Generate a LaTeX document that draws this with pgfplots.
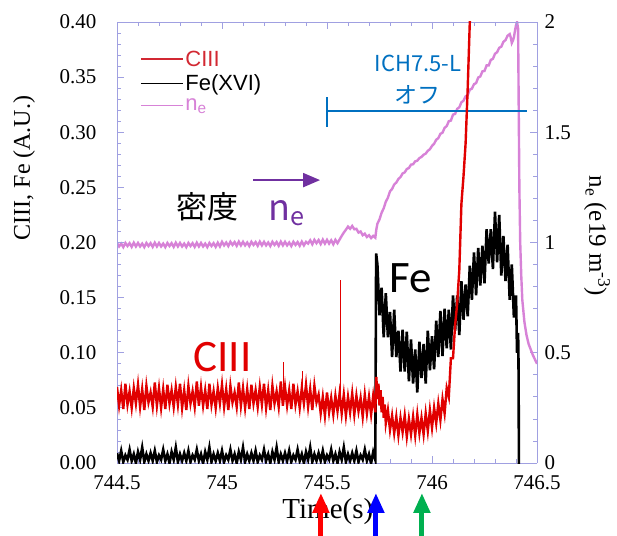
\documentclass[border=0pt]{standalone}
\usepackage{pgfplots}
\pgfplotsset{compat=1.18}
\usepackage{fontspec}
\setmainfont{Liberation Serif}
\newfontfamily\legfont{Liberation Sans}
\newfontfamily\calfont{Carlito}
\newfontfamily\jpfont{Noto Sans CJK JP}
\usetikzlibrary{arrows.meta}
\definecolor{cred}{RGB}{225,0,0}
\definecolor{cpink}{RGB}{215,130,215}
\definecolor{cpurple}{RGB}{112,48,160}
\definecolor{cblue}{RGB}{0,112,192}
\definecolor{caxis}{RGB}{160,160,225}
\definecolor{cgreen}{RGB}{0,176,80}
\definecolor{clegred}{RGB}{210,40,50}
\pgfplotsset{
 common/.style={
  width=420pt, height=441pt, scale only axis, at={(0pt,0pt)}, anchor=south west,
  xmin=744.5, xmax=746.5,
  axis line style={draw=caxis, line width=0.9pt},
  every outer x axis line/.append style={draw=caxis},
  every outer y axis line/.append style={draw=caxis},
  x axis line style={draw=caxis}, y axis line style={draw=caxis},
  tick style={draw=caxis, line width=0.8pt},
  major tick style={draw=caxis}, minor tick style={draw=caxis},
  major tick length=7pt, minor tick length=4pt,
  minor x tick num=4, minor y tick num=4,
  tick align=inside,
  ticklabel style={font=\fontsize{21}{21}\selectfont, text=black},
  /pgf/number format/assume math mode=true,
  label style={font=\fontsize{24}{24}\selectfont},
 }
}
\begin{document}
\begin{tikzpicture}
\path[use as bounding box] (-117pt,-72pt) rectangle (500pt,463pt);
% ---------- right axis: n_e ----------
\begin{axis}[common,
  axis x line=none, axis y line*=right,
  ymin=0, ymax=2, ytick={0,0.5,1,1.5,2},
  yticklabel style={xshift=4pt},
  ylabel={n\textsubscript{e} (e19 m\textsuperscript{-3})},
  ylabel style={at={(axis description cs:1.143,0.515)}, anchor=center, rotate=180, font=\fontsize{25}{25}\selectfont}]
\addplot[cpink, line width=2.4pt] coordinates {
(744.50,0.998)(744.51,0.982)(744.52,0.995)(744.53,0.979)(744.54,0.998)(744.55,0.984)(744.56,0.997)(744.57,0.980)(744.58,0.999)(744.59,0.982)
(744.60,0.998)(744.61,0.982)(744.62,0.995)(744.63,0.979)(744.64,0.998)(744.65,0.984)(744.66,0.997)(744.67,0.980)(744.68,0.999)(744.69,0.982)
(744.70,0.998)(744.71,0.982)(744.72,0.995)(744.73,0.979)(744.74,0.998)(744.75,0.984)(744.76,0.997)(744.77,0.980)(744.78,0.999)(744.79,0.982)
(744.80,0.998)(744.81,0.982)(744.82,0.995)(744.83,0.979)(744.84,0.998)(744.85,0.984)(744.86,0.997)(744.87,0.980)(744.88,0.999)(744.89,0.982)
(744.90,0.998)(744.91,0.982)(744.92,0.995)(744.93,0.979)(744.94,0.998)(744.95,0.984)(744.96,0.997)(744.97,0.980)(744.98,0.999)(744.99,0.982)
(745.00,1.003)(745.01,0.987)(745.02,1.000)(745.03,0.984)(745.04,1.003)(745.05,0.989)(745.06,1.002)(745.07,0.985)(745.08,1.004)(745.09,0.987)
(745.10,1.003)(745.11,0.987)(745.12,1.000)(745.13,0.984)(745.14,1.003)(745.15,0.989)(745.16,1.002)(745.17,0.985)(745.18,1.004)(745.19,0.987)
(745.20,1.003)(745.21,0.987)(745.22,1.000)(745.23,0.984)(745.24,1.003)(745.25,0.989)(745.26,1.002)(745.27,0.985)(745.28,1.004)(745.29,0.987)
(745.30,1.003)(745.31,0.987)(745.32,1.000)(745.33,0.984)(745.34,1.003)(745.35,0.989)(745.36,1.002)(745.37,0.985)(745.38,1.004)(745.39,0.987)
(745.40,1.003)(745.41,0.995)(745.42,1.010)(745.43,0.992)(745.44,1.012)(745.45,0.997)(745.46,1.011)(745.47,0.993)(745.48,1.013)(745.49,0.995)
(745.50,1.012)(745.51,0.995)(745.52,1.010)(745.53,0.992)(745.54,1.012)(745.55,0.997)
(745.57,1.030)(745.58,1.045)(745.59,1.058)(745.60,1.072)(745.61,1.062)(745.62,1.075)(745.63,1.060)(745.64,1.062)(745.65,1.045)(745.66,1.050)
(745.67,1.033)(745.68,1.040)(745.69,1.025)(745.70,1.033)(745.71,1.020)(745.72,1.030)(745.73,1.022)(745.735,1.060)
(745.74,1.085)(745.75,1.105)(745.76,1.135)(745.77,1.155)(745.78,1.185)(745.79,1.203)(745.80,1.232)(745.81,1.243)(745.82,1.263)(745.83,1.272)
(745.84,1.288)(745.85,1.297)(745.86,1.313)(745.87,1.318)(745.88,1.333)(745.89,1.338)(745.90,1.353)(745.91,1.355)(745.92,1.368)(745.93,1.371)
(745.94,1.383)(745.95,1.388)(745.96,1.398)(745.97,1.403)(745.98,1.416)(745.99,1.423)(746.00,1.438)(746.01,1.448)(746.02,1.466)(746.03,1.473)
(746.04,1.493)(746.05,1.498)(746.06,1.520)(746.07,1.528)(746.08,1.550)(746.09,1.553)(746.10,1.580)(746.11,1.583)(746.12,1.606)(746.13,1.613)
(746.14,1.636)(746.15,1.643)(746.16,1.663)(746.17,1.668)(746.18,1.693)(746.19,1.698)(746.20,1.718)(746.21,1.723)(746.22,1.748)(746.23,1.753)
(746.24,1.776)(746.25,1.778)(746.26,1.803)(746.27,1.803)(746.28,1.828)(746.29,1.833)(746.30,1.856)(746.31,1.863)(746.32,1.883)(746.33,1.888)
(746.34,1.910)(746.35,1.918)(746.36,1.938)(746.37,1.945)(746.375,1.930)(746.38,1.905)(746.385,1.915)(746.39,1.930)(746.395,1.960)(746.40,1.985)
(746.405,2.000)(746.41,1.970)(746.413,1.600)(746.416,1.250)(746.42,1.000)(746.425,0.850)(746.43,0.740)(746.44,0.640)(746.45,0.580)(746.46,0.540)
(746.47,0.515)(746.48,0.490)(746.49,0.470)(746.50,0.450)};
% ICH7.5-L off marker
\draw[cblue, line width=2.5pt] (axis cs:745.5,1.596) -- (axis cs:746.452,1.596);
\draw[cblue, line width=2.5pt] (axis cs:745.5,1.524) -- (axis cs:745.5,1.66);
\node[cblue, font=\jpfont\fontsize{22}{22}\selectfont] at (axis cs:745.933,1.814) {ICH7.5-L};
\node[cblue, font=\jpfont\fontsize{23}{23}\selectfont] at (axis cs:745.929,1.669) {オフ};
\node[black, font=\jpfont\fontsize{31}{31}\selectfont] at (axis cs:744.929,1.161) {密度};
\node[cpurple, font=\jpfont\fontsize{36}{36}\selectfont, anchor=base west, inner sep=0pt] at (axis cs:745.219,1.102) {n\textsubscript{e}};
\draw[cpurple, line width=2pt, -{Triangle[width=14pt,length=17pt]}] (axis cs:745.148,1.283) -- (axis cs:745.467,1.283);
\end{axis}
% ---------- left axis: CIII, Fe ----------
\begin{axis}[common,
  axis y line*=left,
  ymin=0, ymax=0.4,
  ytick={0,0.05,0.1,0.15,0.2,0.25,0.3,0.35,0.4},
  yticklabel style={/pgf/number format/fixed, /pgf/number format/fixed zerofill, /pgf/number format/precision=2, xshift=-17pt},
  xtick={744.5,745,745.5,746,746.5},
  xticklabel style={/pgf/number format/fixed, yshift=-9pt},
  xlabel={Time(s)},
  xlabel style={at={(axis description cs:0.502,-0.111)}, anchor=center, font=\fontsize{29}{29}\selectfont},
  ylabel={CIII, Fe (A.U.)},
  ylabel style={at={(axis description cs:-0.2214,0.669)}, anchor=center},
  legend style={draw=none, fill=none, at={(axis description cs:0.055,0.94)}, anchor=north west,
    font=\legfont\fontsize{22}{22}\selectfont, row sep=3pt, inner sep=0pt},
  legend image code/.code={\draw[#1, line width=1.2pt] (0pt,0pt) -- (42pt,0pt);},
  legend cell align=left]
\addlegendimage{clegred}\addlegendentry{\textcolor{clegred}{CIII}}
\addlegendimage{black}\addlegendentry{Fe(XVI)}
\addlegendimage{cpink}\addlegendentry{\textcolor{cpink}{n\textsubscript{e}}}
% Fe(XVI)
\addplot[black, line width=2.6pt, forget plot] coordinates {
(744.50,.009)(744.51,.002)(744.52,.011)(744.53,.001)(744.54,.007)(744.55,.003)(744.56,.012)(744.57,.002)(744.58,.008)(744.59,.000)(744.60,.010)(744.61,.003)(744.62,.014)(744.63,.001)(744.64,.008)(744.65,.002)
(744.66,.009)(744.67,.002)(744.68,.011)(744.69,.001)(744.70,.007)(744.71,.003)(744.72,.012)(744.73,.002)(744.74,.008)(744.75,.000)(744.76,.010)(744.77,.003)(744.78,.014)(744.79,.001)(744.80,.008)(744.81,.002)
(744.82,.009)(744.83,.002)(744.84,.011)(744.85,.001)(744.86,.007)(744.87,.003)(744.88,.012)(744.89,.002)(744.90,.008)(744.91,.000)(744.92,.010)(744.93,.003)(744.94,.014)(744.95,.001)(744.96,.008)(744.97,.002)
(744.98,.009)(744.99,.002)(745.00,.011)(745.01,.001)(745.02,.007)(745.03,.003)(745.04,.012)(745.05,.002)(745.06,.008)(745.07,.000)(745.08,.010)(745.09,.003)(745.10,.014)(745.11,.001)(745.12,.008)(745.13,.002)
(745.14,.009)(745.15,.002)(745.16,.011)(745.17,.001)(745.18,.007)(745.19,.003)(745.20,.012)(745.21,.002)(745.22,.008)(745.23,.000)(745.24,.010)(745.25,.003)(745.26,.014)(745.27,.001)(745.28,.008)(745.29,.002)
(745.30,.009)(745.31,.002)(745.32,.011)(745.33,.001)(745.34,.007)(745.35,.003)(745.36,.012)(745.37,.002)(745.38,.008)(745.39,.000)(745.40,.010)(745.41,.003)(745.42,.014)(745.43,.001)(745.44,.008)(745.45,.002)
(745.46,.009)(745.47,.002)(745.48,.011)(745.49,.001)(745.50,.007)(745.51,.003)(745.52,.012)(745.53,.002)(745.54,.008)(745.55,.000)(745.56,.010)(745.57,.003)(745.58,.014)(745.59,.001)(745.60,.008)(745.61,.002)
(745.62,.009)(745.63,.002)(745.64,.011)(745.65,.001)(745.66,.007)(745.67,.003)(745.68,.012)(745.69,.002)(745.70,.008)(745.71,.000)(745.72,.010)(745.73,.003)
(745.734,.190)
(745.74,.180)(745.75,.134)(745.76,.159)(745.77,.114)(745.78,.154)(745.79,.114)(745.80,.137)(745.81,.096)(745.82,.139)(745.83,.096)(745.84,.120)(745.85,.083)(745.86,.121)(745.87,.083)(745.88,.119)(745.89,.074)
(745.90,.112)(745.91,.072)(745.92,.103)(745.93,.064)(745.94,.110)(745.95,.077)(745.96,.108)(745.97,.072)(745.98,.120)(745.99,.084)(746.00,.115)(746.01,.085)(746.02,.129)(746.03,.096)(746.04,.138)(746.05,.097)
(746.06,.140)(746.07,.104)(746.08,.139)(746.09,.103)(746.10,.152)(746.11,.120)(746.12,.152)(746.13,.116)(746.14,.165)(746.15,.130)(746.16,.162)(746.17,.133)(746.18,.179)(746.19,.148)(746.20,.191)(746.21,.152)
(746.22,.195)(746.23,.161)(746.24,.197)(746.25,.163)(746.26,.212)(746.27,.181)(746.28,.212)(746.29,.176)(746.30,.228)(746.31,.182)(746.32,.225)(746.33,.170)(746.34,.206)(746.35,.165)(746.36,.198)(746.37,.148)
(746.38,.180)(746.39,.132)(746.40,.152)(746.405,.100)(746.41,.118)(746.412,.090)(746.414,.000)(746.42,.000)};
% CIII
\addplot[cred, line width=2.4pt, forget plot] coordinates {
(744.50,.069)(744.51,.052)(744.52,.066)(744.53,.049)(744.54,.072)(744.55,.053)(744.56,.065)(744.57,.050)(744.58,.068)(744.59,.054)
(744.60,.071)(744.61,.051)(744.62,.067)(744.63,.048)(744.64,.070)(744.65,.055)(744.66,.064)(744.67,.051)(744.68,.073)(744.69,.052)
(744.70,.068)(744.71,.050)(744.72,.067)(744.73,.049)(744.74,.071)(744.75,.054)(744.76,.066)(744.77,.051)(744.78,.069)(744.79,.053)
(744.80,.072)(744.81,.050)(744.82,.066)(744.83,.048)(744.84,.070)(744.85,.054)(744.86,.065)(744.87,.051)(744.88,.074)(744.89,.052)
(744.90,.069)(744.91,.052)(744.92,.066)(744.93,.049)(744.94,.072)(744.95,.053)(744.96,.065)(744.97,.050)(744.98,.068)(744.99,.054)
(745.00,.071)(745.01,.051)(745.02,.067)(745.03,.048)(745.04,.070)(745.05,.055)(745.06,.064)(745.07,.051)(745.08,.073)(745.09,.052)
(745.10,.068)(745.11,.050)(745.12,.067)(745.13,.049)(745.14,.071)(745.15,.054)(745.16,.066)(745.17,.051)(745.18,.069)(745.19,.053)
(745.20,.072)(745.21,.050)(745.22,.066)(745.23,.048)(745.24,.070)(745.25,.054)(745.26,.065)(745.27,.051)(745.28,.074)(745.29,.052)
(745.30,.069)(745.31,.052)(745.32,.066)(745.33,.049)(745.34,.072)(745.35,.053)(745.36,.065)(745.37,.050)(745.38,.068)(745.39,.054)
(745.40,.071)(745.41,.051)(745.42,.067)(745.43,.048)(745.44,.070)(745.45,.055)
(745.46,.062)(745.47,.045)(745.48,.060)(745.49,.043)(745.50,.064)(745.51,.046)(745.52,.059)(745.53,.044)(745.54,.061)(745.55,.047)(745.56,.063)
(745.57,.045)(745.58,.062)(745.59,.043)(745.60,.060)(745.61,.046)(745.62,.063)(745.63,.044)(745.64,.061)(745.65,.047)(745.66,.059)
(745.67,.042)(745.68,.062)(745.69,.045)(745.70,.060)(745.71,.044)(745.72,.061)(745.73,.046)
(745.735,.078)(745.74,.058)(745.745,.072)(745.75,.052)(745.755,.066)(745.76,.046)(745.765,.060)(745.77,.041)(745.775,.053)(745.78,.036)
(745.79,.048)(745.80,.030)(745.81,.043)(745.82,.027)(745.83,.042)(745.84,.025)(745.85,.041)(745.86,.028)(745.87,.043)(745.88,.024)
(745.89,.040)(745.90,.026)(745.91,.042)(745.92,.025)(745.93,.044)(745.94,.027)(745.95,.041)(745.96,.026)(745.97,.045)(745.98,.029)
(745.99,.048)(746.00,.032)(746.01,.050)(746.02,.036)(746.03,.054)(746.04,.039)(746.05,.058)(746.06,.045)(746.07,.068)(746.08,.060)
(746.09,.095)(746.10,.095)(746.11,.125)(746.12,.145)(746.13,.175)(746.14,.235)(746.15,.260)(746.16,.290)(746.17,.340)(746.18,.400)
(746.19,.470)(746.20,.550)};
% CIII isolated spikes (thin)
\addplot[cred, line width=0.8pt, forget plot] coordinates {(745.292,.060)(745.292,.092)};
\addplot[cred, line width=0.8pt, forget plot] coordinates {(745.382,.060)(745.382,.083)};
\addplot[cred, line width=0.8pt, forget plot] coordinates {(745.566,.055)(745.566,.166)};
\node[cred, font=\calfont\fontsize{45}{45}\selectfont] at (axis cs:745.002,0.0961) {CIII};
\node[black, font=\calfont\fontsize{45}{45}\selectfont] at (axis cs:745.9,0.1678) {Fe};
\coordinate (r1) at (axis cs:745.471,-0.07);
\coordinate (r2) at (axis cs:745.471,-0.0272);
\coordinate (b1) at (axis cs:745.733,-0.07);
\coordinate (b2) at (axis cs:745.733,-0.0272);
\coordinate (g1) at (axis cs:745.952,-0.07);
\coordinate (g2) at (axis cs:745.952,-0.0272);
\end{axis}
\draw[red, line width=5pt, -{Triangle[width=16pt,length=20pt]}] (r1) -- (r2);
\draw[blue, line width=5pt, -{Triangle[width=16pt,length=20pt]}] (b1) -- (b2);
\draw[cgreen, line width=5pt, -{Triangle[width=16pt,length=20pt]}] (g1) -- (g2);
\end{tikzpicture}
\end{document}
